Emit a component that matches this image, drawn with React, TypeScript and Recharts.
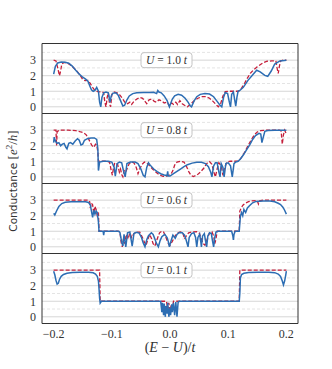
import { LineChart, Line, XAxis, YAxis, CartesianGrid, ReferenceArea, ReferenceDot } from "recharts";

type Pt = [number, number];

// Valores leídos a ojo de la figura: cada serie es una lista de vértices (x, G).
const X_TICKS = [-0.2, -0.1, 0, 0.1, 0.2];
const X_TICK_LABELS = ["−0.2", "−0.1", "0.0", "0.1", "0.2"];
const Y_TICKS = [0, 1, 2, 3];
const GRID_MAJOR = [0, 1, 2, 3];
const GRID_MINOR = [0.5, 1.5, 2.5, 3.5];
const U_LABELS = ["1.0", "0.8", "0.6", "0.1"];

const u10Blue: Pt[] = [
  [-0.2, 2.1], [-0.197, 2.6], [-0.193, 2.82], [-0.187, 2.88], [-0.18, 2.86], [-0.174, 2.8],
  [-0.168, 2.62], [-0.162, 2.35], [-0.156, 2.1], [-0.15, 1.9], [-0.145, 1.78], [-0.141, 1.65],
  [-0.138, 1.35], [-0.135, 1.1], [-0.132, 1.0], [-0.129, 1.05], [-0.126, 1.25], [-0.123, 1.0],
  [-0.121, 0.3], [-0.119, 0.0], [-0.117, 0.6], [-0.114, 0.9], [-0.11, 0.95], [-0.106, 0.9],
  [-0.103, 0.3], [-0.101, 0.7], [-0.098, 0.88], [-0.093, 0.9], [-0.089, 0.75], [-0.085, 0.4],
  [-0.081, 0.05], [-0.078, 0.1], [-0.074, 0.45], [-0.07, 0.7], [-0.064, 0.85], [-0.057, 0.9],
  [-0.045, 0.92], [-0.035, 0.92], [-0.028, 0.93], [-0.023, 0.85], [-0.021, 1.05], [-0.019, 0.95],
  [-0.015, 0.9], [-0.01, 0.7], [-0.005, 0.4], [-0.001, 0.0], [0.004, 0.5], [0.008, 0.7],
  [0.014, 0.8], [0.02, 0.75], [0.026, 0.55], [0.031, 0.3], [0.035, 0.05], [0.037, 0.0],
  [0.041, 0.35], [0.046, 0.65], [0.052, 0.8], [0.06, 0.85], [0.068, 0.82], [0.075, 0.65],
  [0.081, 0.35], [0.086, 0.1], [0.089, 0.0], [0.092, 0.6], [0.095, 0.92], [0.099, 0.85],
  [0.102, 0.3], [0.104, 0.0], [0.106, 0.8], [0.109, 0.95], [0.111, 0.5], [0.113, 0.05],
  [0.115, 0.6], [0.117, 1.0], [0.12, 1.05], [0.126, 1.25], [0.134, 1.7], [0.143, 2.1],
  [0.149, 2.35], [0.155, 2.25], [0.163, 2.02], [0.168, 1.96], [0.174, 2.3], [0.18, 2.75],
  [0.189, 2.95], [0.2, 3.0],
];

const u10Red: Pt[] = [
  [-0.2, 3.0], [-0.196, 2.95], [-0.193, 2.5], [-0.19, 2.0], [-0.188, 2.3], [-0.186, 2.75],
  [-0.182, 2.85], [-0.176, 2.8], [-0.17, 2.65], [-0.164, 2.45], [-0.159, 2.25], [-0.154, 2.0],
  [-0.15, 1.75], [-0.146, 1.68], [-0.141, 1.7], [-0.137, 1.5], [-0.133, 1.25], [-0.129, 1.05],
  [-0.124, 0.97], [-0.118, 0.95], [-0.114, 0.92], [-0.112, 0.3], [-0.11, 0.0], [-0.108, 0.6],
  [-0.106, 0.9], [-0.104, 0.2], [-0.102, 0.0], [-0.1, 0.8], [-0.096, 0.95], [-0.091, 0.9],
  [-0.086, 0.75], [-0.081, 0.5], [-0.077, 0.25], [-0.073, 0.2], [-0.069, 0.3], [-0.066, 0.15],
  [-0.062, 0.35], [-0.057, 0.5], [-0.052, 0.6], [-0.047, 0.55], [-0.043, 0.35], [-0.04, 0.2],
  [-0.036, 0.45], [-0.031, 0.5], [-0.027, 0.35], [-0.023, 0.3], [-0.019, 0.45], [-0.015, 0.4],
  [-0.01, 0.25], [-0.005, 0.3], [-0.001, 0.05], [0.003, 0.25], [0.006, 0.15], [0.01, 0.3],
  [0.013, 0.15], [0.017, 0.4], [0.021, 0.2], [0.025, 0.1], [0.03, 0.0], [0.036, 0.2],
  [0.042, 0.4], [0.048, 0.55], [0.055, 0.65], [0.062, 0.65], [0.068, 0.55], [0.074, 0.35],
  [0.079, 0.15], [0.083, 0.0], [0.087, 0.2], [0.091, 0.7], [0.095, 0.98], [0.1, 1.0],
  [0.11, 1.0], [0.118, 1.0], [0.123, 1.2], [0.128, 1.5], [0.133, 1.85], [0.138, 2.15],
  [0.143, 2.35], [0.149, 2.55], [0.155, 2.7], [0.161, 2.85], [0.167, 2.93], [0.175, 2.95],
  [0.182, 2.95], [0.184, 2.5], [0.186, 2.15], [0.188, 2.6], [0.19, 2.95], [0.195, 3.0],
  [0.2, 3.0],
];

const u08Blue: Pt[] = [
  [-0.2, 2.2], [-0.199, 2.55], [-0.197, 2.3], [-0.194, 2.15], [-0.191, 2.2], [-0.188, 2.0],
  [-0.185, 2.1], [-0.182, 2.15], [-0.179, 1.9], [-0.177, 1.8], [-0.174, 2.15], [-0.171, 2.2],
  [-0.167, 2.1], [-0.163, 2.3], [-0.159, 2.45], [-0.156, 2.35], [-0.153, 2.05], [-0.15, 2.1],
  [-0.147, 2.35], [-0.142, 2.45], [-0.136, 2.5], [-0.13, 2.5], [-0.126, 2.4], [-0.124, 1.8],
  [-0.123, 0.4], [-0.121, 0.95], [-0.115, 1.0], [-0.106, 1.0], [-0.1, 0.95], [-0.096, 0.6],
  [-0.094, 0.05], [-0.091, 0.85], [-0.087, 0.95], [-0.083, 0.9], [-0.08, 0.4], [-0.077, 0.0],
  [-0.074, 0.85], [-0.068, 0.95], [-0.06, 0.95], [-0.055, 0.85], [-0.05, 0.5], [-0.046, 0.1],
  [-0.043, 0.0], [-0.04, 0.6], [-0.037, 0.9], [-0.034, 0.75], [-0.028, 0.5], [-0.022, 0.33],
  [-0.016, 0.2], [-0.01, 0.12], [-0.005, 0.08], [-0.004, 0.35], [-0.003, 0.05], [0.0, 0.05],
  [0.006, 0.2], [0.012, 0.35], [0.018, 0.5], [0.024, 0.65], [0.03, 0.78], [0.038, 0.88],
  [0.046, 0.93], [0.054, 0.93], [0.061, 0.85], [0.066, 0.65], [0.07, 0.3], [0.072, 0.0],
  [0.075, 0.7], [0.078, 0.9], [0.081, 0.9], [0.084, 0.3], [0.086, 0.0], [0.088, 0.85],
  [0.091, 0.6], [0.093, 0.0], [0.096, 0.85], [0.1, 0.9], [0.104, 0.7], [0.107, 0.0],
  [0.11, 0.85], [0.113, 0.95], [0.117, 1.0], [0.121, 1.15], [0.126, 1.4], [0.131, 1.7],
  [0.137, 2.05], [0.142, 2.4], [0.147, 2.65], [0.153, 2.8], [0.156, 2.75], [0.158, 2.2],
  [0.16, 2.5], [0.163, 2.92], [0.168, 2.98], [0.18, 3.0], [0.2, 3.0],
];

const u08Red: Pt[] = [
  [-0.2, 3.0], [-0.196, 3.0], [-0.195, 2.0], [-0.194, 2.9], [-0.19, 3.0], [-0.175, 3.0],
  [-0.162, 2.97], [-0.155, 2.9], [-0.149, 2.85], [-0.144, 2.7], [-0.14, 2.45], [-0.137, 2.2],
  [-0.134, 2.0], [-0.131, 1.9], [-0.128, 2.1], [-0.126, 2.05], [-0.124, 1.6], [-0.123, 1.0],
  [-0.11, 1.0], [-0.104, 0.95], [-0.101, 0.4], [-0.099, 0.1], [-0.097, 0.6], [-0.095, 0.9],
  [-0.09, 0.8], [-0.087, 0.3], [-0.085, 0.5], [-0.083, 0.15], [-0.081, 0.0], [-0.079, 0.4],
  [-0.076, 0.3], [-0.073, 0.6], [-0.07, 0.85], [-0.066, 0.95], [-0.062, 0.9], [-0.058, 0.6],
  [-0.055, 0.2], [-0.052, 0.5], [-0.048, 0.8], [-0.044, 0.95], [-0.04, 0.9], [-0.035, 0.7],
  [-0.03, 0.5], [-0.024, 0.3], [-0.018, 0.12], [-0.012, 0.03], [-0.006, 0.05], [-0.002, 0.1],
  [0.002, 0.2], [0.005, 0.4], [0.008, 0.75], [0.012, 0.95], [0.018, 1.0], [0.024, 0.95],
  [0.028, 0.7], [0.032, 0.35], [0.036, 0.1], [0.04, 0.02], [0.046, 0.1], [0.052, 0.3],
  [0.058, 0.55], [0.063, 0.85], [0.068, 0.98], [0.072, 0.8], [0.075, 0.35], [0.078, 0.0],
  [0.081, 0.5], [0.084, 0.9], [0.088, 0.7], [0.091, 0.1], [0.094, 0.6], [0.098, 0.95],
  [0.104, 1.0], [0.117, 1.0], [0.122, 1.2], [0.128, 1.55], [0.134, 2.0], [0.14, 2.4],
  [0.145, 2.7], [0.15, 2.88], [0.156, 2.97], [0.165, 3.0], [0.188, 3.0], [0.191, 2.95],
  [0.193, 2.1], [0.195, 2.7], [0.197, 3.0], [0.2, 2.75],
];

const u06Blue: Pt[] = [
  [-0.2, 2.15], [-0.198, 2.05], [-0.195, 2.3], [-0.191, 2.6], [-0.186, 2.78], [-0.18, 2.86],
  [-0.17, 2.9], [-0.155, 2.9], [-0.145, 2.9], [-0.14, 2.85], [-0.137, 2.7], [-0.135, 2.3],
  [-0.133, 1.9], [-0.131, 2.35], [-0.129, 2.1], [-0.127, 2.3], [-0.125, 2.2], [-0.123, 1.6],
  [-0.122, 1.0], [-0.115, 1.0], [-0.114, 0.75], [-0.113, 1.0], [-0.1, 1.0], [-0.088, 1.0],
  [-0.086, 0.92], [-0.083, 0.3], [-0.081, 0.05], [-0.079, 0.8], [-0.076, 0.0], [-0.073, 0.9],
  [-0.069, 0.95], [-0.067, 0.5], [-0.065, 0.05], [-0.062, 0.85], [-0.058, 0.93], [-0.053, 0.88],
  [-0.049, 0.6], [-0.046, 0.25], [-0.043, 0.0], [-0.04, 0.45], [-0.037, 0.72], [-0.032, 0.9],
  [-0.029, 0.8], [-0.026, 0.5], [-0.023, 0.2], [-0.02, 0.0], [-0.017, 0.4], [-0.014, 0.65],
  [-0.009, 0.8], [-0.005, 0.6], [-0.003, 0.35], [-0.001, 0.0], [0.002, 0.4], [0.005, 0.75],
  [0.009, 0.55], [0.012, 0.8], [0.016, 0.92], [0.021, 0.9], [0.025, 0.75], [0.028, 0.4],
  [0.031, 0.0], [0.033, 0.6], [0.037, 0.85], [0.041, 0.9], [0.044, 0.6], [0.046, 0.0],
  [0.048, 0.6], [0.051, 0.8], [0.053, 0.3], [0.054, 0.0], [0.056, 0.7], [0.059, 0.85],
  [0.061, 0.4], [0.063, 0.0], [0.065, 0.7], [0.068, 0.9], [0.071, 0.85], [0.073, 0.4],
  [0.075, 0.0], [0.077, 0.6], [0.079, 0.95], [0.082, 1.0], [0.106, 1.0], [0.108, 0.7],
  [0.109, 0.45], [0.11, 0.8], [0.112, 1.0], [0.119, 1.0], [0.12, 1.5], [0.121, 1.95],
  [0.123, 2.2], [0.125, 2.0], [0.127, 2.4], [0.13, 2.2], [0.133, 2.5], [0.137, 2.65],
  [0.142, 2.83], [0.148, 2.92], [0.16, 2.95], [0.172, 2.95], [0.18, 2.9], [0.186, 2.8],
  [0.19, 2.72], [0.194, 2.55], [0.197, 2.35], [0.2, 2.1],
];

const u06Red: Pt[] = [
  [-0.2, 3.0], [-0.14, 3.0], [-0.138, 2.9], [-0.137, 2.5], [-0.135, 2.8], [-0.133, 2.7],
  [-0.131, 2.15], [-0.129, 2.6], [-0.127, 2.4], [-0.125, 2.0], [-0.123, 2.2], [-0.122, 1.0],
  [-0.09, 1.0], [-0.086, 0.95], [-0.084, 0.3], [-0.082, 0.0], [-0.08, 0.5], [-0.078, 0.2],
  [-0.075, 0.8], [-0.072, 0.5], [-0.069, 0.9], [-0.066, 0.6], [-0.062, 0.85], [-0.058, 0.95],
  [-0.052, 0.95], [-0.048, 0.65], [-0.044, 0.3], [-0.041, 0.1], [-0.038, 0.5], [-0.035, 0.8],
  [-0.032, 0.55], [-0.029, 0.2], [-0.026, 0.05], [-0.022, 0.5], [-0.018, 0.9], [-0.014, 1.0],
  [-0.011, 0.95], [-0.008, 0.7], [-0.005, 0.4], [-0.002, 0.15], [0.0, 0.1], [0.004, 0.35],
  [0.008, 0.65], [0.013, 0.9], [0.018, 0.95], [0.022, 0.9], [0.025, 0.5], [0.028, 0.7],
  [0.032, 0.9], [0.038, 0.95], [0.046, 0.97], [0.05, 0.9], [0.054, 0.5], [0.057, 0.2],
  [0.06, 0.1], [0.064, 0.5], [0.068, 0.9], [0.072, 0.97], [0.075, 0.7], [0.077, 0.2],
  [0.079, 0.5], [0.081, 1.0], [0.119, 1.0], [0.12, 2.3], [0.123, 2.55], [0.126, 2.7],
  [0.13, 2.82], [0.135, 2.9], [0.14, 2.95], [0.15, 2.97], [0.152, 2.75], [0.154, 2.95],
  [0.16, 3.0], [0.2, 3.0],
];

const u01Blue: Pt[] = [
  [-0.2, 2.93], [-0.198, 2.7], [-0.196, 2.35], [-0.194, 2.1], [-0.192, 2.15], [-0.19, 2.4],
  [-0.187, 2.6], [-0.183, 2.72], [-0.177, 2.8], [-0.168, 2.85], [-0.155, 2.87], [-0.14, 2.86],
  [-0.132, 2.83], [-0.128, 2.75], [-0.125, 2.6], [-0.123, 2.3], [-0.122, 1.8], [-0.121, 1.2],
  [-0.12, 0.88], [-0.118, 1.0], [-0.1, 1.0], [-0.016, 1.0], [-0.014, 0.3], [-0.013, 0.9],
  [-0.011, 0.1], [-0.01, 0.85], [-0.008, 0.0], [-0.007, 0.7], [-0.005, 0.2], [-0.004, 0.9],
  [-0.002, 0.0], [0.0, 0.6], [0.001, 0.1], [0.003, 0.8], [0.004, 0.3], [0.006, 0.9],
  [0.008, 0.1], [0.01, 0.95], [0.012, 0.0], [0.014, 0.95], [0.016, 1.0], [0.119, 1.0],
  [0.12, 1.5], [0.121, 2.5], [0.123, 2.72], [0.127, 2.8], [0.135, 2.85], [0.15, 2.87],
  [0.17, 2.87], [0.18, 2.84], [0.186, 2.75], [0.19, 2.6], [0.193, 2.3], [0.195, 2.05],
  [0.197, 2.3], [0.199, 2.7], [0.2, 2.93],
];

const u01Red: Pt[] = [
  [-0.2, 3.0], [-0.121, 3.0], [-0.12, 1.0], [-0.006, 1.0], [-0.004, 0.5], [-0.002, 0.9],
  [0.0, 0.15], [0.002, 0.8], [0.004, 0.4], [0.006, 1.0], [0.119, 1.0], [0.12, 3.0],
  [0.2, 3.0],
];

const PANELES = [
  { u: U_LABELS[0], azul: u10Blue, rojo: u10Red },
  { u: U_LABELS[1], azul: u08Blue, rojo: u08Red },
  { u: U_LABELS[2], azul: u06Blue, rojo: u06Red },
  { u: U_LABELS[3], azul: u01Blue, rojo: u01Red },
];

const AZUL = "#2c6db3";
const ROJO = "#c41e3a";
const SERIF = "'Liberation Serif', serif";
const X_DOM: [number, number] = [-0.22, 0.22];
const Y_DOM: [number, number] = [-0.43, 4.07];
// Cada panel mide 70 px de área útil; los paneles se solapan 1 px para que
// el borde compartido quede en una sola fila de píxeles.
const ALTO_PANEL = 70;
const TOPE = 43;

const filas = (pts: Pt[]) => pts.map(([x, y]) => ({ x, y }));

function Etiqueta({ cx, cy, u }: { cx: number; cy: number; u: string }) {
  return (
    <g>
      <rect x={cx - 25.5} y={cy - 7.5} width={51} height={15} rx={3} fill="#fff" stroke="#c4c4c4" />
      <text x={cx} y={cy + 4} textAnchor="middle" fontFamily={SERIF} fontSize={11.5} fill="#333">
        <tspan fontStyle="italic">U</tspan> = {u} <tspan fontStyle="italic">t</tspan>
      </text>
    </g>
  );
}

function Panel({ u, azul, rojo, ultimo }: { u: string; azul: Pt[]; rojo: Pt[]; ultimo: boolean }) {
  return (
    <LineChart
      width={332}
      height={ultimo ? ALTO_PANEL + 31 : ALTO_PANEL + 1}
      margin={{ top: 0.5, right: 34, bottom: 0.5, left: 0 }}
    >
      <CartesianGrid vertical={false} horizontalValues={GRID_MINOR} stroke="#e4e4e4" strokeDasharray="3 2" />
      <CartesianGrid vertical={false} horizontalValues={GRID_MAJOR} stroke="#d6d6d6" />
      <XAxis
        type="number"
        dataKey="x"
        domain={X_DOM}
        ticks={X_TICKS}
        interval={0}
        allowDataOverflow
        hide={!ultimo}
        height={30}
        axisLine={false}
        tickLine={false}
        tickSize={3}
        tickMargin={3}
        tickFormatter={(v) => X_TICK_LABELS[X_TICKS.indexOf(Number(v))] ?? String(v)}
        tick={{ fontSize: 12, fill: "#333", fontFamily: SERIF }}
      />
      <YAxis
        type="number"
        domain={Y_DOM}
        ticks={Y_TICKS}
        interval={0}
        allowDataOverflow
        width={42}
        axisLine={false}
        tickLine={false}
        tickSize={4}
        tickMargin={2}
        tick={{ fontSize: 12, fill: "#333", fontFamily: SERIF }}
      />
      <Line data={filas(rojo)} dataKey="y" type="linear" stroke={ROJO} strokeWidth={1.3} strokeDasharray="4 2" dot={false} isAnimationActive={false} />
      <Line data={filas(azul)} dataKey="y" type="linear" stroke={AZUL} strokeWidth={1.5} dot={false} isAnimationActive={false} />
      <ReferenceArea x1={X_DOM[0]} x2={X_DOM[1]} y1={Y_DOM[0]} y2={Y_DOM[1]} fill="none" fillOpacity={0} stroke="#333" strokeWidth={1} />
      <ReferenceDot x={-0.006} y={3} r={0} shape={(p: any) => <Etiqueta cx={p.cx} cy={p.cy} u={u} />} />
    </LineChart>
  );
}

export default function App() {
  return (
    <div style={{ position: "absolute", left: 0, top: 0, width: 332, height: 369, background: "#fff" }}>
      {PANELES.map((p, i) => (
        <div key={i} style={{ position: "absolute", left: 0, top: TOPE + i * ALTO_PANEL }}>
          <Panel u={p.u} azul={p.azul} rojo={p.rojo} ultimo={i === PANELES.length - 1} />
        </div>
      ))}
      <svg width={332} height={369} style={{ position: "absolute", left: 0, top: 0, pointerEvents: "none" }}>
        <text transform="translate(16.5 181) rotate(-90)" textAnchor="middle" fill="#333" fontSize={10.5}>
          <tspan fontFamily="'DejaVu Sans', sans-serif">Conductance </tspan>
          <tspan fontFamily={SERIF} fontSize={13}>[</tspan>
          <tspan fontFamily={SERIF} fontSize={13} fontStyle="italic">e</tspan>
          <tspan fontFamily={SERIF} fontSize={9} dy={-5}>2</tspan>
          <tspan fontFamily={SERIF} fontSize={13} dy={5}>/</tspan>
          <tspan fontFamily={SERIF} fontSize={13} fontStyle="italic">h</tspan>
          <tspan fontFamily={SERIF} fontSize={13}>]</tspan>
        </text>
        <text x={170} y={352} textAnchor="middle" fill="#333" fontFamily={SERIF} fontSize={14}>
          (<tspan fontStyle="italic">E</tspan> − <tspan fontStyle="italic">U</tspan>)/<tspan fontStyle="italic">t</tspan>
        </text>
      </svg>
    </div>
  );
}
